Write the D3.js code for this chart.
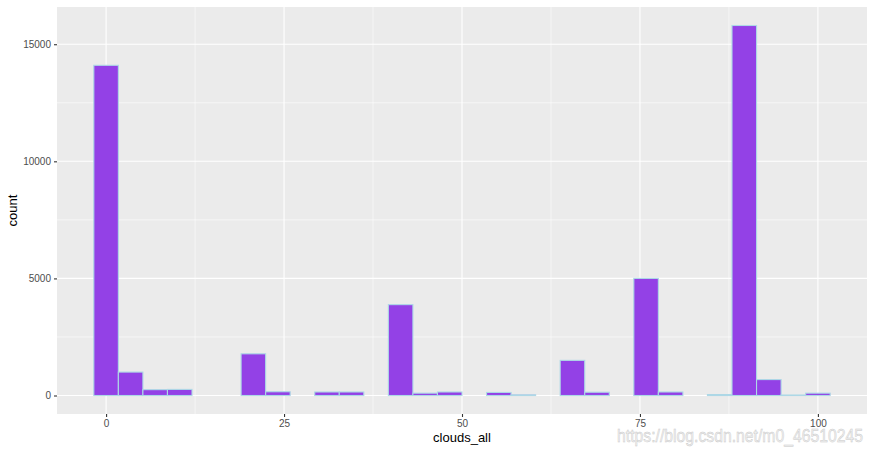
<!DOCTYPE html>
<html>
<head>
<meta charset="utf-8">
<script src="https://cdn.jsdelivr.net/npm/d3@7"></script>
<style>
  html, body { margin: 0; padding: 0; background: #ffffff; }
  svg { display: block; }
  text { font-family: "Liberation Sans", Arial, Helvetica, sans-serif; }
</style>
</head>
<body>
<svg id="chart" width="875" height="452"></svg>
<script>
// ---- data (30 bins, binwidth = 100/29, centred on k*100/29) ----
const binCount = 30;
const binMin = 0;
const binMax = 100;
const counts = [14100, 1000, 250, 260, 0, 0, 1780, 160, 0, 150,
                150, 0, 3880, 100, 150, 0, 130, 30, 0, 1500,
                140, 0, 5000, 150, 0, 40, 15800, 680, 20, 100];
const xTicks = [0, 25, 50, 75, 100];
const xMinorTicks = [12.5, 37.5, 62.5, 87.5];
const yTicks = [0, 5000, 10000, 15000];
const yMinorTicks = [2500, 7500, 12500];
const xTitle = "clouds_all";
const yTitle = "count";
const watermark = "https://blog.csdn.net/m0_46510245";

// ---- layout ----
const svg = d3.select("#chart");
const panel = { left: 57, right: 867, top: 7, bottom: 414 };

const bw = (binMax - binMin) / (binCount - 1);
const bins = counts.map((c, i) => ({
  x0: binMin + i * bw - bw / 2,
  x1: binMin + i * bw + bw / 2,
  count: c
}));

const xLo = bins[0].x0, xHi = bins[bins.length - 1].x1;
const xPad = (xHi - xLo) * 0.05;
const x = d3.scaleLinear().domain([xLo - xPad, xHi + xPad]).range([panel.left, panel.right]);

const yMax = d3.max(counts);
const y = d3.scaleLinear().domain([-yMax * 0.05, yMax * 1.05]).range([panel.bottom, panel.top]);

// panel background
svg.append("rect")
  .attr("x", panel.left).attr("y", panel.top)
  .attr("width", panel.right - panel.left).attr("height", panel.bottom - panel.top)
  .attr("fill", "#EBEBEB");

const grid = svg.append("g");
// minor grid
grid.selectAll("line.ymin").data(yMinorTicks).enter().append("line")
  .attr("x1", panel.left).attr("x2", panel.right)
  .attr("y1", d => y(d)).attr("y2", d => y(d))
  .attr("stroke", "#ffffff").attr("stroke-width", 0.55);
grid.selectAll("line.xmin").data(xMinorTicks).enter().append("line")
  .attr("y1", panel.top).attr("y2", panel.bottom)
  .attr("x1", d => x(d)).attr("x2", d => x(d))
  .attr("stroke", "#ffffff").attr("stroke-width", 0.55);
// major grid
grid.selectAll("line.ymaj").data(yTicks).enter().append("line")
  .attr("x1", panel.left).attr("x2", panel.right)
  .attr("y1", d => y(d)).attr("y2", d => y(d))
  .attr("stroke", "#ffffff").attr("stroke-width", 1.1);
grid.selectAll("line.xmaj").data(xTicks).enter().append("line")
  .attr("y1", panel.top).attr("y2", panel.bottom)
  .attr("x1", d => x(d)).attr("x2", d => x(d))
  .attr("stroke", "#ffffff").attr("stroke-width", 1.1);

// bars
svg.append("g").selectAll("rect").data(bins).enter().append("rect")
  .attr("x", d => x(d.x0))
  .attr("width", d => x(d.x1) - x(d.x0))
  .attr("y", d => y(d.count))
  .attr("height", d => Math.max(0, y(0) - y(d.count)))
  .attr("fill", "#9341E6")
  .attr("stroke", "#ADD8E6")
  .attr("stroke-width", 1.1);

// axes
const xAxis = d3.axisBottom(x).tickValues(xTicks).tickSize(3).tickPadding(3).tickFormat(d3.format("d"));
const gx = svg.append("g").attr("transform", `translate(0,${panel.bottom})`).call(xAxis);
gx.select(".domain").remove();
gx.selectAll(".tick line").attr("stroke", "#333333").attr("stroke-width", 1.1);
gx.selectAll(".tick text").attr("fill", "#4D4D4D").attr("font-size", 10)
  .attr("font-family", "'Liberation Sans', Arial, sans-serif");

const yAxis = d3.axisLeft(y).tickValues(yTicks).tickSize(3).tickPadding(3).tickFormat(d3.format("d"));
const gy = svg.append("g").attr("transform", `translate(${panel.left},0)`).call(yAxis);
gy.select(".domain").remove();
gy.selectAll(".tick line").attr("stroke", "#333333").attr("stroke-width", 1.1);
gy.selectAll(".tick text").attr("fill", "#4D4D4D").attr("font-size", 10)
  .attr("font-family", "'Liberation Sans', Arial, sans-serif");

// titles
svg.append("text")
  .attr("x", (panel.left + panel.right) / 2).attr("y", 442)
  .attr("text-anchor", "middle").attr("font-size", 13).attr("fill", "#000")
  .text(xTitle);
svg.append("text")
  .attr("transform", `translate(17,${(panel.top + panel.bottom) / 2}) rotate(-90)`)
  .attr("text-anchor", "middle").attr("font-size", 13).attr("fill", "#000")
  .text(yTitle);

// watermark
svg.append("text")
  .attr("x", 617).attr("y", 442)
  .attr("font-size", 19)
  .attr("textLength", 246).attr("lengthAdjust", "spacingAndGlyphs")
  .attr("fill", "#f2f2f2").attr("stroke", "#c9c9c9").attr("stroke-width", 0.5)
  .text(watermark);
</script>
</body>
</html>
